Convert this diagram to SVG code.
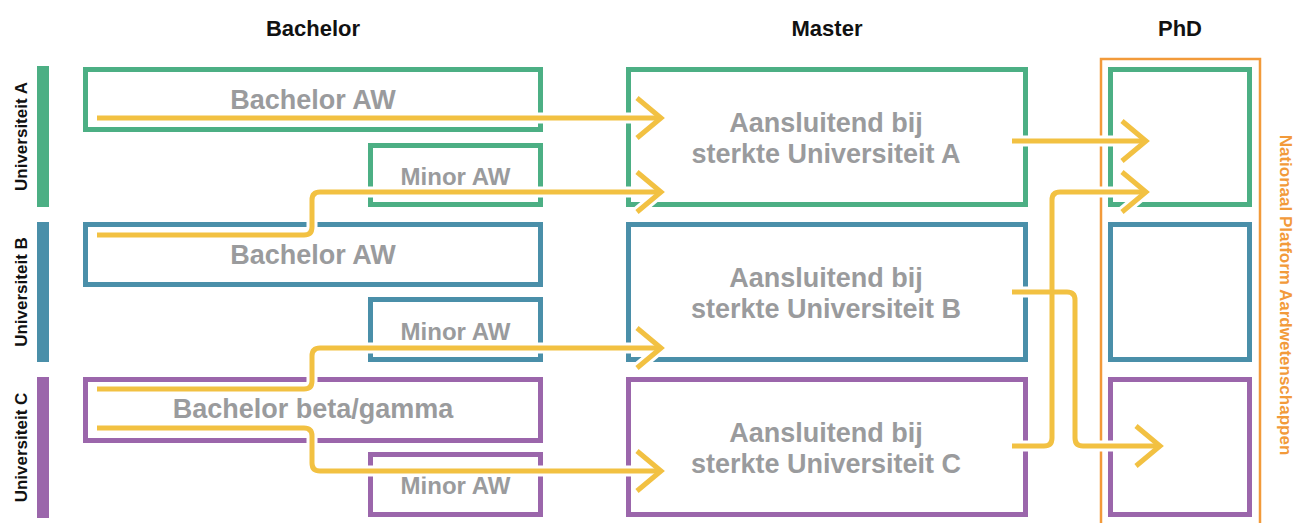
<svg xmlns="http://www.w3.org/2000/svg" width="1295" height="523" viewBox="0 0 1295 523">
<style>
text{font-family:"Liberation Sans",Arial,sans-serif;font-weight:bold}
.hdr{font-size:22px;fill:#111;text-anchor:middle}
.uni{font-size:17px;fill:#111;text-anchor:middle}
.lbl{font-size:27px;fill:#9a9b9d;text-anchor:middle}
.mnr{font-size:24px;fill:#9a9b9d;text-anchor:middle}
.box{fill:none;stroke-width:5}
.ga{stroke:#4caf84}.gb{stroke:#4a8fa9}.gc{stroke:#9b66ab}
.halo{fill:none;stroke:#fff;stroke-width:11;marker-end:url(#hchev)}
.ln{fill:none;stroke:#f2c142;stroke-width:5;marker-end:url(#chev)}
</style>
<defs>
<marker id="chev" markerUnits="userSpaceOnUse" viewBox="0 0 32 48" markerWidth="32" markerHeight="48" refX="28" refY="24" orient="auto" overflow="visible">
<path d="M4,4 L28,24 L4,44" fill="none" stroke="#f2c142" stroke-width="5"/>
</marker>
<marker id="hchev" markerUnits="userSpaceOnUse" viewBox="0 0 32 48" markerWidth="32" markerHeight="48" refX="28" refY="24" orient="auto" overflow="visible">
<path d="M4,4 L28,24 L4,44" fill="none" stroke="#fff" stroke-width="11"/>
</marker>
</defs>
<rect width="1295" height="523" fill="#fff"/>
<g id="headers">
<text class="hdr" x="313" y="36">Bachelor</text>
<text class="hdr" x="827" y="36">Master</text>
<text class="hdr" x="1180" y="36">PhD</text>
</g>
<g id="uniA"><rect x="37" y="66" width="12" height="141" fill="#4caf84"/><text class="uni" transform="translate(27,136.5) rotate(-90)">Universiteit A</text></g>
<g id="uniB"><rect x="37" y="222" width="12" height="140" fill="#4a8fa9"/><text class="uni" transform="translate(27,292) rotate(-90)">Universiteit B</text></g>
<g id="uniC"><rect x="37" y="377" width="12" height="141" fill="#9b66ab"/><text class="uni" transform="translate(27,447.5) rotate(-90)">Universiteit C</text></g>
<g id="platform">
<path d="M1101,530 V59 H1260 V530" fill="none" stroke="#f29a3a" stroke-width="2.5"/>
<text transform="translate(1280,295) rotate(90)" style="font-size:17px;fill:#f29a3a;text-anchor:middle">Nationaal Platform Aardwetenschappen</text>
</g>
<g id="bachA"><rect class="box ga" x="85.5" y="69.5" width="455" height="60"/><text class="lbl" x="313" y="109">Bachelor AW</text></g>
<g id="minorA"><rect class="box ga" x="370.5" y="145.5" width="170" height="59"/><text class="mnr" x="455.5" y="185">Minor AW</text></g>
<g id="bachB"><rect class="box gb" x="85.5" y="224.5" width="455" height="60"/><text class="lbl" x="313" y="264">Bachelor AW</text></g>
<g id="minorB"><rect class="box gb" x="370.5" y="299.5" width="170" height="60"/><text class="mnr" x="455.5" y="340">Minor AW</text></g>
<g id="bachC"><rect class="box gc" x="85.5" y="379.5" width="455" height="61"/><text class="lbl" x="313" y="418">Bachelor beta/gamma</text></g>
<g id="minorC"><rect class="box gc" x="370.5" y="454.5" width="170" height="60"/><text class="mnr" x="455.5" y="494">Minor AW</text></g>
<g id="masterA"><rect class="box ga" x="628.5" y="69.5" width="397" height="135"/><text class="lbl" x="826" y="132">Aansluitend bij</text><text class="lbl" x="826" y="163">sterkte Universiteit A</text></g>
<g id="masterB"><rect class="box gb" x="628.5" y="224.5" width="397" height="135"/><text class="lbl" x="826" y="287">Aansluitend bij</text><text class="lbl" x="826" y="318">sterkte Universiteit B</text></g>
<g id="masterC"><rect class="box gc" x="628.5" y="379.5" width="397" height="135"/><text class="lbl" x="826" y="442">Aansluitend bij</text><text class="lbl" x="826" y="473">sterkte Universiteit C</text></g>
<g id="phdA"><rect class="box ga" x="1110.5" y="69.5" width="139" height="135"/></g>
<g id="phdB"><rect class="box gb" x="1110.5" y="224.5" width="139" height="135"/></g>
<g id="phdC"><rect class="box gc" x="1110.5" y="379.5" width="139" height="135"/></g>
<g id="connectors">
<g id="halos">
<path class="halo" d="M97,118 H661"/>
<path class="halo" d="M97,235 H304 Q312,235 312,227 V200 Q312,192 320,192 H661"/>
<path class="halo" d="M97,389 H304 Q312,389 312,381 V356 Q312,348 320,348 H661"/>
<path class="halo" d="M97,428 H304 Q312,428 312,436 V463 Q312,471 320,471 H661"/>
<path class="halo" d="M1012,141 H1146"/>
<path class="halo" d="M1012,446 H1044 Q1052,446 1052,438 V200 Q1052,192 1060,192 H1146"/>
<path class="halo" d="M1012,292 H1067 Q1075,292 1075,300 V438 Q1075,446 1083,446 H1160"/>
</g>
<path class="ln" d="M97,118 H661"/>
<path class="ln" d="M97,235 H304 Q312,235 312,227 V200 Q312,192 320,192 H661"/>
<path class="ln" d="M97,389 H304 Q312,389 312,381 V356 Q312,348 320,348 H661"/>
<path class="ln" d="M97,428 H304 Q312,428 312,436 V463 Q312,471 320,471 H661"/>
<path class="ln" d="M1012,141 H1146"/>
<path class="ln" d="M1012,446 H1044 Q1052,446 1052,438 V200 Q1052,192 1060,192 H1146"/>
<path class="ln" d="M1012,292 H1067 Q1075,292 1075,300 V438 Q1075,446 1083,446 H1160"/>
</g>
</svg>
